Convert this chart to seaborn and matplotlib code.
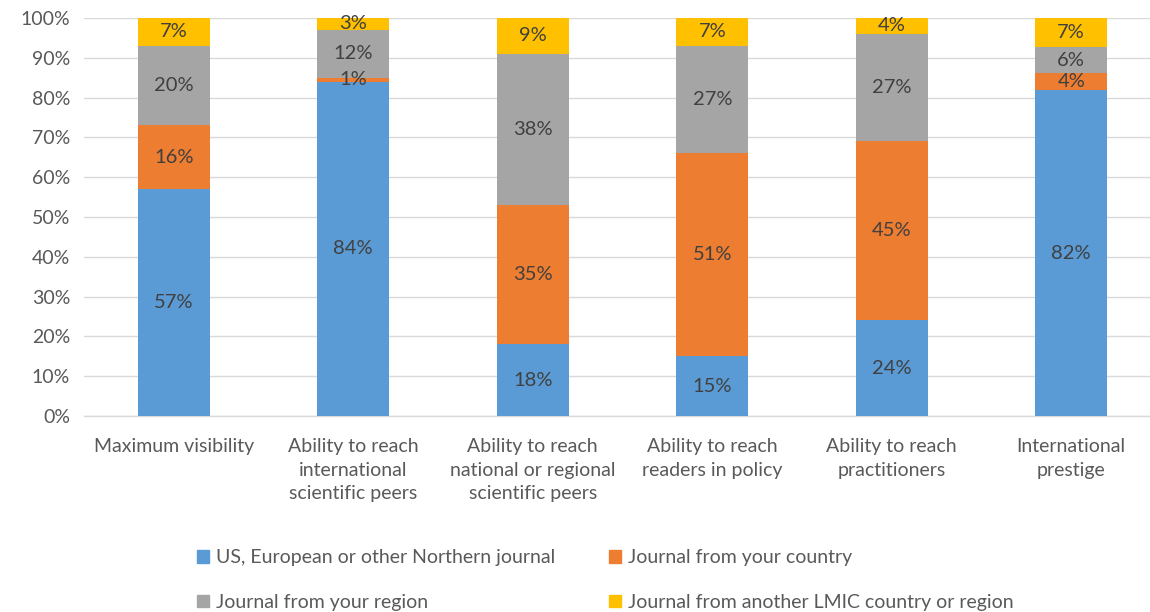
import matplotlib
matplotlib.use("Agg")
import matplotlib.pyplot as plt
import seaborn as sns
import pandas as pd
import numpy as np
from matplotlib.patches import Patch

categories = ["Maximum visibility",
              "Ability to reach\ninternational\nscientific peers",
              "Ability to reach\nnational or regional\nscientific peers",
              "Ability to reach\nreaders in policy",
              "Ability to reach\npractitioners",
              "International\nprestige"]
series_names = ["US, European or other Northern journal",
                "Journal from your country",
                "Journal from your region",
                "Journal from another LMIC country or region"]
northern = [57, 84, 18, 15, 24, 81.8]
country = [16, 1, 35, 51, 45, 4.4]
region = [20, 12, 38, 27, 27, 6.4]
other_lmic = [7, 3, 9, 7, 4, 7.4]
colors = ["#5B9BD5", "#ED7D31", "#A5A5A5", "#FFC000"]

sns.set_theme(style="white")
plt.rcParams['font.family'] = ['Lato', 'DejaVu Sans']

vals = np.array([northern, country, region, other_lmic], dtype=float)

fig = plt.figure(figsize=(11.5, 6.12), dpi=100)
ax = fig.add_axes([84/1150, 1-416/612, 1077/1150, 398/612])

bottom = np.zeros(len(categories))
for i, name in enumerate(series_names):
    df = pd.DataFrame({"cat": categories, "val": vals[i]})
    sns.barplot(data=df, x="cat", y="val", color=colors[i], width=0.40,
                bottom=bottom, ax=ax, saturation=1, linewidth=0, zorder=3)
    for j in range(len(categories)):
        ax.text(j, bottom[j] + vals[i][j] / 2, f"{vals[i][j]:.0f}%",
                ha="center", va="center", fontsize=14.5, color="#404040", zorder=4)
    bottom = bottom + vals[i]

ax.set_xlim(-0.5, 5.5)
ax.set_ylim(0, 100)
ax.set_yticks(np.arange(0, 101, 10))
ax.set_yticklabels([f"{t}%" for t in range(0, 101, 10)], fontsize=14, color="#595959")
ax.set_xticks(range(len(categories)))
ax.set_xticklabels(categories, fontsize=14, color="#595959", linespacing=1.45)
ax.tick_params(axis="x", length=0, pad=16)
ax.tick_params(axis="y", length=0, pad=10)
ax.set_xlabel("")
ax.set_ylabel("")
ax.grid(axis="y", color="#D9D9D9", linewidth=1, zorder=0)
ax.set_axisbelow(True)
for s in ["top", "right", "left"]:
    ax.spines[s].set_visible(False)
ax.spines["bottom"].set_color("#D9D9D9")
ax.spines["bottom"].set_linewidth(1)

handles = [Patch(color=c) for c in colors]
order = [0, 2, 1, 3]
fig.legend([handles[k] for k in order], [series_names[k] for k in order],
           ncol=2, loc="center", bbox_to_anchor=(0.5265, 1-580/612), frameon=False,
           fontsize=14, labelcolor="#595959", handlelength=0.6, handleheight=0.6,
           handletextpad=0.4, columnspacing=2.75, labelspacing=1.4)

fig.savefig("out.png", dpi=100)
